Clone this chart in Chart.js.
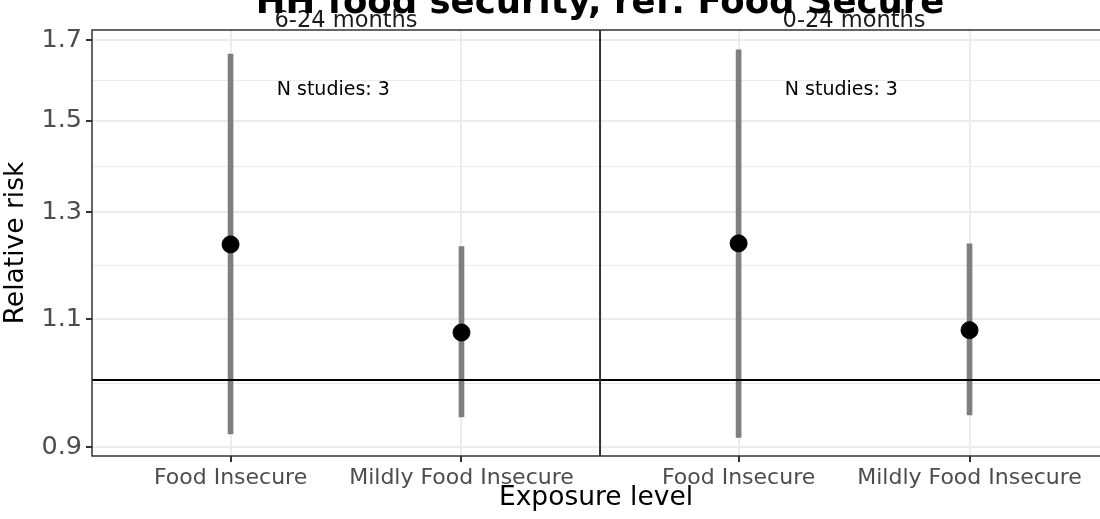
<!DOCTYPE html>
<html>
<head>
<meta charset="utf-8">
<script src="https://cdn.jsdelivr.net/npm/chart.js@4.4.1/dist/chart.umd.min.js"></script>
<style>
  html, body { margin: 0; padding: 0; overflow: hidden; background: #fff; }
</style>
</head>
<body>
<canvas id="rrChart" width="1100" height="519"></canvas>
<script>
const plotTitle = "HH food security, ref: Food Secure";
const panels = ["6-24 months", "0-24 months"];
const categories = ["Food Insecure", "Mildly Food Insecure"];

// relative risk with 95% CI, one array per panel
const rr6to24 = [1.236, 1.077];
const lower6to24 = [0.919, 0.944];
const upper6to24 = [1.664, 1.232];
const rr0to24 = [1.238, 1.081];
const lower0to24 = [0.914, 0.947];
const upper0to24 = [1.675, 1.237];
const nStudies = [3, 3];

const yTicks = [0.9, 1.1, 1.3, 1.5, 1.7];
const refLine = 1;

// facet geometry in x units (ggplot discrete expansion 0.6)
const PANEL_W = 2.2;
const CAT_OFF = 0.6;
// the source image cuts the right panel a few pixels short of its edge
const X_MAX = 4.365;
const NOTE_X = 1.045;
const NOTE_Y = 1.573;

const rrByPanel = [rr6to24, rr0to24];
const loByPanel = [lower6to24, lower0to24];
const hiByPanel = [upper6to24, upper0to24];

const catX = (p, i) => p * PANEL_W + CAT_OFF + i;

const points = [];
const bars = [];
const xTickVals = [];
const xTickLabels = [];
panels.forEach((name, p) => {
  categories.forEach((cat, i) => {
    points.push({ x: catX(p, i), y: rrByPanel[p][i] });
    bars.push({ x: catX(p, i), y: [loByPanel[p][i], hiByPanel[p][i]] });
    xTickVals.push(catX(p, i));
    xTickLabels.push(cat);
  });
});

// major + minor (geometric midpoints) for the log axis
const yAll = [];
yTicks.forEach((v, i) => {
  if (i > 0) yAll.push(Math.sqrt(yTicks[i - 1] * v));
  yAll.push(v);
});
const isMajor = (v) => yTicks.some(t => Math.abs(t - v) < 1e-9);

const FONT = "'DejaVu Sans', sans-serif";

const facetPlugin = {
  id: "facets",
  afterDraw(chart) {
    const { ctx, chartArea, scales } = chart;
    const x = scales.x, y = scales.y;
    const { left, right, top, bottom } = chartArea;
    ctx.save();

    // reference line
    const yRef = y.getPixelForValue(refLine);
    ctx.strokeStyle = "#000";
    ctx.lineWidth = 2;
    ctx.beginPath();
    ctx.moveTo(left, yRef);
    ctx.lineTo(right, yRef);
    ctx.stroke();

    // panel borders (right edge is off the picture)
    ctx.strokeStyle = "#333";
    ctx.lineWidth = 1.5;
    ctx.beginPath();
    ctx.moveTo(right + 2, top);
    ctx.lineTo(left, top);
    ctx.lineTo(left, bottom);
    ctx.lineTo(right + 2, bottom);
    ctx.stroke();
    for (let p = 1; p < panels.length; p++) {
      const xd = x.getPixelForValue(p * PANEL_W);
      ctx.lineWidth = 2;
      ctx.beginPath();
      ctx.moveTo(xd, top);
      ctx.lineTo(xd, bottom);
      ctx.stroke();
    }

    // strip labels and study counts
    ctx.textAlign = "center";
    panels.forEach((name, p) => {
      ctx.fillStyle = "#1a1a1a";
      ctx.font = "22.5px " + FONT;
      ctx.textBaseline = "alphabetic";
      ctx.fillText(name, x.getPixelForValue(p * PANEL_W + PANEL_W / 2), 27);

      ctx.fillStyle = "#000";
      ctx.font = "19px " + FONT;
      ctx.textBaseline = "middle";
      ctx.fillText("N studies: " + nStudies[p], x.getPixelForValue(p * PANEL_W + NOTE_X), y.getPixelForValue(NOTE_Y));
    });

    // main title (cropped at top as in the source image)
    ctx.fillStyle = "#000";
    ctx.font = "bold 35.5px " + FONT;
    ctx.textBaseline = "alphabetic";
    ctx.fillText(plotTitle, x.getPixelForValue(PANEL_W), 13);
    ctx.restore();
  }
};

new Chart(document.getElementById("rrChart"), {
  type: "scatter",
  data: {
    datasets: [
      {
        type: "scatter",
        data: points,
        backgroundColor: "#000",
        borderColor: "#000",
        pointRadius: 8.5,
        pointHoverRadius: 8.5,
        order: 0
      },
      {
        type: "bar",
        data: bars,
        backgroundColor: "#7f7f7f",
        borderWidth: 0,
        barThickness: 5,
        order: 1
      }
    ]
  },
  options: {
    responsive: false,
    animation: false,
    layout: { autoPadding: false, padding: { top: 30, right: 0, left: 0, bottom: 0 } },
    plugins: {
      legend: { display: false },
      tooltip: { enabled: false }
    },
    scales: {
      x: {
        type: "linear",
        min: 0,
        max: X_MAX,
        offset: false,
        afterBuildTicks(scale) {
          scale.ticks = xTickVals.map(v => ({ value: v }));
        },
        afterFit(scale) {
          scale.height = 63;
          scale.paddingLeft = 0;
          scale.paddingRight = 0;
        },
        ticks: {
          autoSkip: false,
          maxRotation: 0,
          padding: 3,
          color: "#4d4d4d",
          font: { family: FONT, size: 22 },
          callback: (v, i) => xTickLabels[i]
        },
        grid: {
          offset: false,
          color: "#ebebeb",
          lineWidth: 2,
          tickLength: 6,
          tickWidth: 2,
          tickColor: "#333"
        },
        border: { display: false },
        title: {
          display: true,
          text: "Exposure level",
          color: "#000",
          font: { family: FONT, size: 26.5 },
          padding: { top: 0, bottom: 5 }
        }
      },
      y: {
        type: "logarithmic",
        min: 0.888,
        max: 1.728,
        afterBuildTicks(scale) {
          scale.ticks = yAll.map(v => ({ value: v }));
        },
        afterFit(scale) { scale.width = 92; },
        ticks: {
          padding: 4,
          color: "#4d4d4d",
          font: { family: FONT, size: 25.5 },
          callback: (v) => isMajor(v) ? v.toFixed(1) : ""
        },
        grid: {
          color: "#ebebeb",
          lineWidth: (c) => isMajor(c.tick.value) ? 2 : 1,
          tickLength: 6,
          tickWidth: 2,
          tickColor: (c) => isMajor(c.tick.value) ? "#333" : "rgba(0,0,0,0)"
        },
        border: { display: false },
        title: {
          display: true,
          text: "Relative risk",
          color: "#000",
          font: { family: FONT, size: 26.5 },
          padding: { top: 0, bottom: 7 }
        }
      }
    }
  },
  plugins: [facetPlugin]
});
</script>
</body>
</html>
